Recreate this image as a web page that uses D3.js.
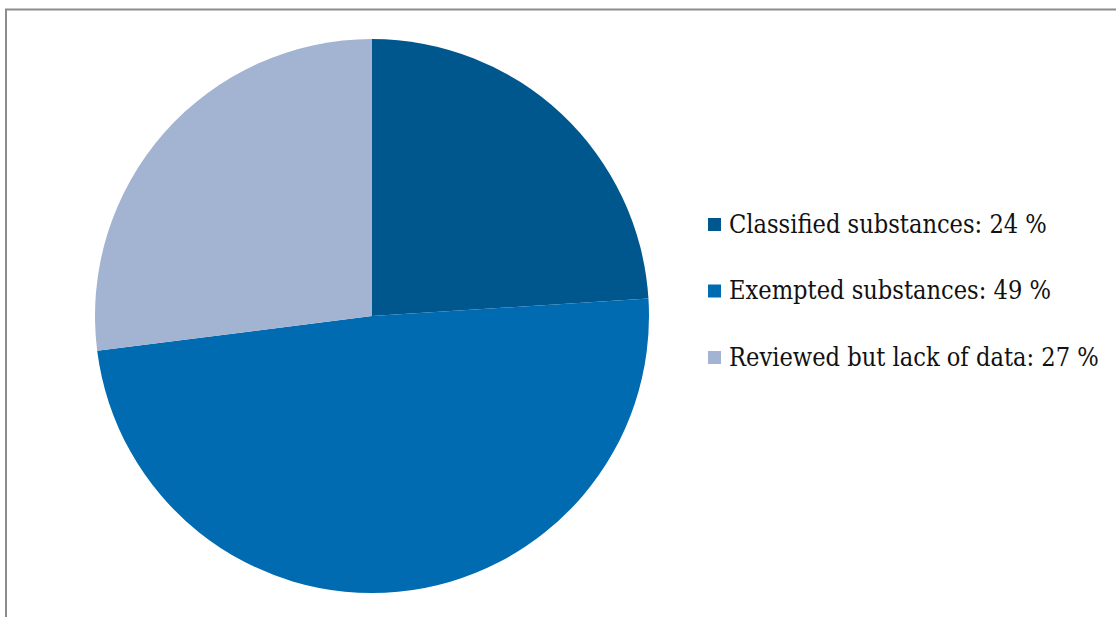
<!DOCTYPE html>
<html><head><meta charset="utf-8">
<script src="https://cdn.jsdelivr.net/npm/d3@7"></script>
<style>body{margin:0;background:#fff}svg{display:block}</style>
</head><body>
<svg id="c" width="1116" height="617"></svg>
<script>
const categories = ["Classified substances", "Exempted substances", "Reviewed but lack of data"];
const values = [24, 49, 27];
const colors = ["#00578E", "#006BB1", "#A2B4D1"];

const svg = d3.select("#c");
// frame
svg.append("rect").attr("x", 6).attr("y", 9.5).attr("width", 1200).attr("height", 700)
  .attr("fill", "#fff").attr("stroke", "#8c8c8c").attr("stroke-width", 2);

const cx = 372, cy = 316, r = 277;
const pie = d3.pie().sort(null).value(d => d)(values);
const arc = d3.arc().innerRadius(0).outerRadius(r);
const g = svg.append("g").attr("transform", `translate(${cx},${cy})`);
g.selectAll("path").data(pie).join("path")
  .attr("d", arc).attr("fill", (d, i) => colors[i]);

const lg = svg.append("g");
const items = lg.selectAll("g").data(categories).join("g")
  .attr("transform", (d, i) => `translate(708,${218 + i * 66.5})`);
items.append("rect").attr("width", 13).attr("height", 13).attr("fill", (d, i) => colors[i]);
const texts = items.append("text").attr("x", 21).attr("y", 14.5)
  .attr("font-family", "DejaVu Serif Condensed, DejaVu Serif, serif")
  .attr("font-stretch", "condensed")
  .attr("font-size", 22).attr("fill", "#111")
  .text((d, i) => `${d}: ${values[i]} %`);
// fit font size so first label spans ~318px like the reference
const w0 = texts.nodes()[0].getComputedTextLength();
const fs = 22 * 318 / w0;
texts.attr("font-size", Math.min(26, Math.max(18, fs)));
</script>
</body></html>
